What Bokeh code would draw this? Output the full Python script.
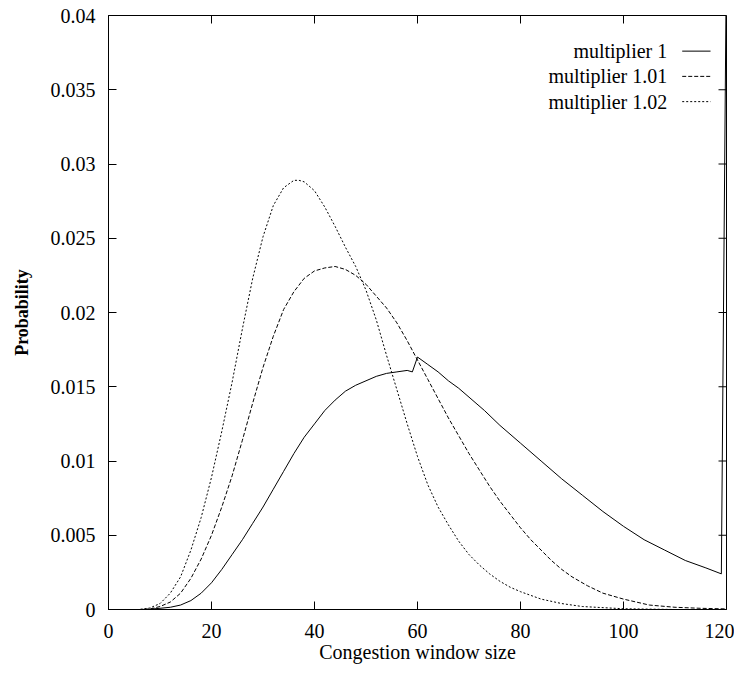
from bokeh.plotting import figure
from bokeh.models import FixedTicker, Range1d, Label, Arrow
from bokeh.embed import file_html
from bokeh.resources import INLINE

# ---- data ----
series_names = ["multiplier 1", "multiplier 1.01", "multiplier 1.02"]

x_m1 = [0, 6, 8, 10, 12, 14, 16, 18, 20, 22, 24, 26, 28, 30, 32, 34, 36, 38, 40, 42,
        44, 46, 48, 50, 52, 54, 56, 58, 59, 60, 62, 64, 66, 68, 70, 73, 76, 80, 84,
        88, 92, 96, 100, 104, 108, 112, 116, 119, 120]
y_m1 = [0, 0, 0.00002, 0.00008, 0.00015, 0.0003, 0.0006, 0.0011, 0.0018, 0.0027,
        0.0037, 0.0047, 0.0058, 0.0069, 0.0081, 0.0093, 0.0105, 0.0116, 0.0125,
        0.0134, 0.0141, 0.0147, 0.0151, 0.0154, 0.0157, 0.0159, 0.0160, 0.0161,
        0.0160, 0.0170, 0.0165, 0.0160, 0.0154, 0.0149, 0.0143, 0.0134, 0.0124,
        0.0112, 0.0100, 0.0088, 0.0077, 0.0066, 0.0056, 0.0047, 0.0040, 0.0033,
        0.0028, 0.0024, 0.045]

x_m101 = [0, 6, 8, 10, 12, 14, 16, 18, 20, 22, 24, 26, 28, 30, 32, 34, 36, 38, 40, 42,
          44, 46, 48, 50, 52, 54, 56, 58, 60, 62, 64, 66, 68, 70, 72, 74, 76, 78, 80,
          82, 84, 86, 88, 90, 93, 96, 100, 105, 110, 115, 120]
y_m101 = [0, 0, 0.00003, 0.0002, 0.0005, 0.0011, 0.0021, 0.0034, 0.0050, 0.0069,
          0.0090, 0.0114, 0.0139, 0.0163, 0.0184, 0.0202, 0.0214, 0.0223, 0.0228,
          0.0230, 0.0231, 0.0229, 0.0225, 0.0219, 0.0211, 0.0203, 0.0193, 0.0181,
          0.0168, 0.0155, 0.0142, 0.0129, 0.0117, 0.0105, 0.0094, 0.0083, 0.0073,
          0.0064, 0.0055, 0.0047, 0.0040, 0.0033, 0.0027, 0.0022, 0.0016, 0.0011,
          0.0007, 0.0003, 0.00015, 0.00008, 0.00004]

x_m102 = [0, 6, 8, 10, 12, 14, 16, 18, 20, 22, 24, 26, 28, 30, 32, 34, 36, 37, 38, 40,
          42, 44, 46, 48, 50, 52, 54, 56, 58, 60, 62, 64, 66, 68, 70, 72, 74, 76, 78,
          80, 84, 88, 92, 100, 110, 120]
y_m102 = [0, 0, 0.0001, 0.0004, 0.0011, 0.0022, 0.0040, 0.0062, 0.0089, 0.0120,
          0.0153, 0.0189, 0.0223, 0.0251, 0.0272, 0.0284, 0.0289, 0.0289, 0.0288,
          0.0282, 0.0271, 0.0258, 0.0244, 0.0231, 0.0215, 0.0195, 0.0171, 0.0148,
          0.0125, 0.0103, 0.0084, 0.0069, 0.0057, 0.0046, 0.0037, 0.0030, 0.0024,
          0.0019, 0.0015, 0.0012, 0.0007, 0.0004, 0.0002, 0.00005, 0.0, 0.0]

x_ticks = [0, 20, 40, 60, 80, 100, 120]
x_tick_labels = ["0", "20", "40", "60", "80", "100", "120"]
y_ticks = [0, 0.005, 0.01, 0.015, 0.02, 0.025, 0.03, 0.035, 0.04]
y_tick_labels = ["0", "0.005", "0.01", "0.015", "0.02", "0.025", "0.03", "0.035", "0.04"]

FONT = "Liberation Serif"
FS = "20px"

W, H = 734, 680
BL, BR, BT, BB = 108, 8, 15, 71
X0, X1, Y0, Y1 = 0, 120, 0, 0.04

p = figure(width=W, height=H, output_backend="svg", toolbar_location=None,
           x_range=Range1d(X0, X1), y_range=Range1d(Y0, Y1),
           min_border_left=BL, min_border_right=BR, min_border_top=BT,
           min_border_bottom=BB,
           x_axis_label="Congestion window size", y_axis_label="Probability")

p.grid.visible = False
p.outline_line_color = "black"
p.outline_line_width = 1
p.background_fill_color = "white"
p.border_fill_color = "white"

for ax in p.xaxis:
    ax.ticker = FixedTicker(ticks=x_ticks)
    ax.major_label_overrides = {t: l for t, l in zip(x_ticks, x_tick_labels)}
    ax.major_label_standoff = 14
    ax.axis_label_standoff = 0
for ax in p.yaxis:
    ax.ticker = FixedTicker(ticks=y_ticks)
    ax.major_label_overrides = {t: l for t, l in zip(y_ticks, y_tick_labels)}
    ax.major_label_standoff = 13
    ax.axis_label_standoff = 16

for ax in list(p.xaxis) + list(p.yaxis):
    ax.major_tick_in = 8
    ax.major_tick_out = 0
    ax.minor_tick_line_color = None
    ax.axis_line_color = "black"
    ax.major_tick_line_color = "black"
    ax.major_label_text_font = FONT
    ax.major_label_text_font_size = FS
    ax.major_label_text_color = "black"
    ax.axis_label_text_font = FONT
    ax.axis_label_text_font_size = FS
    ax.axis_label_text_color = "black"

p.xaxis.axis_label_text_font_style = "normal"
p.yaxis.axis_label_text_font_style = "bold"
p.yaxis.axis_label_text_font_size = "18px"

# mirrored inward ticks on the top and right edges (gnuplot style)
frame_w = W - BL - BR
frame_h = H - BT - BB
tick_dx = 8 * (X1 - X0) / frame_w
tick_dy = 8 * (Y1 - Y0) / frame_h
p.segment(x0=x_ticks, y0=[Y1] * len(x_ticks), x1=x_ticks, y1=[Y1 - tick_dy] * len(x_ticks),
          line_color="black", line_width=1)
p.segment(x0=[X1] * len(y_ticks), y0=y_ticks, x1=[X1 - tick_dx] * len(y_ticks), y1=y_ticks,
          line_color="black", line_width=1)

styles = ["solid", "4 2", "2 2"]
xs = [x_m1, x_m101, x_m102]
ys = [y_m1, y_m101, y_m102]
for xx, yy, dash in zip(xs, ys, styles):
    p.line(xx, yy, line_color="black", line_width=1, line_dash=dash)

# legend (text right-aligned, sample on the right, gnuplot style)
legend_rows_y = [0.0376, 0.0359, 0.0342]
for name, dash, ly in zip(series_names, styles, legend_rows_y):
    p.add_layout(Label(x=108.5, y=ly, text=name, text_align="right",
                       text_baseline="middle", text_font=FONT, text_font_size=FS,
                       text_color="black"))
    p.add_layout(Arrow(start=None, end=None, x_start=111.4, y_start=ly,
                       x_end=116.9, y_end=ly, line_color="black", line_width=1,
                       line_dash=dash))

open("out.html", "w").write(file_html(p, INLINE))
